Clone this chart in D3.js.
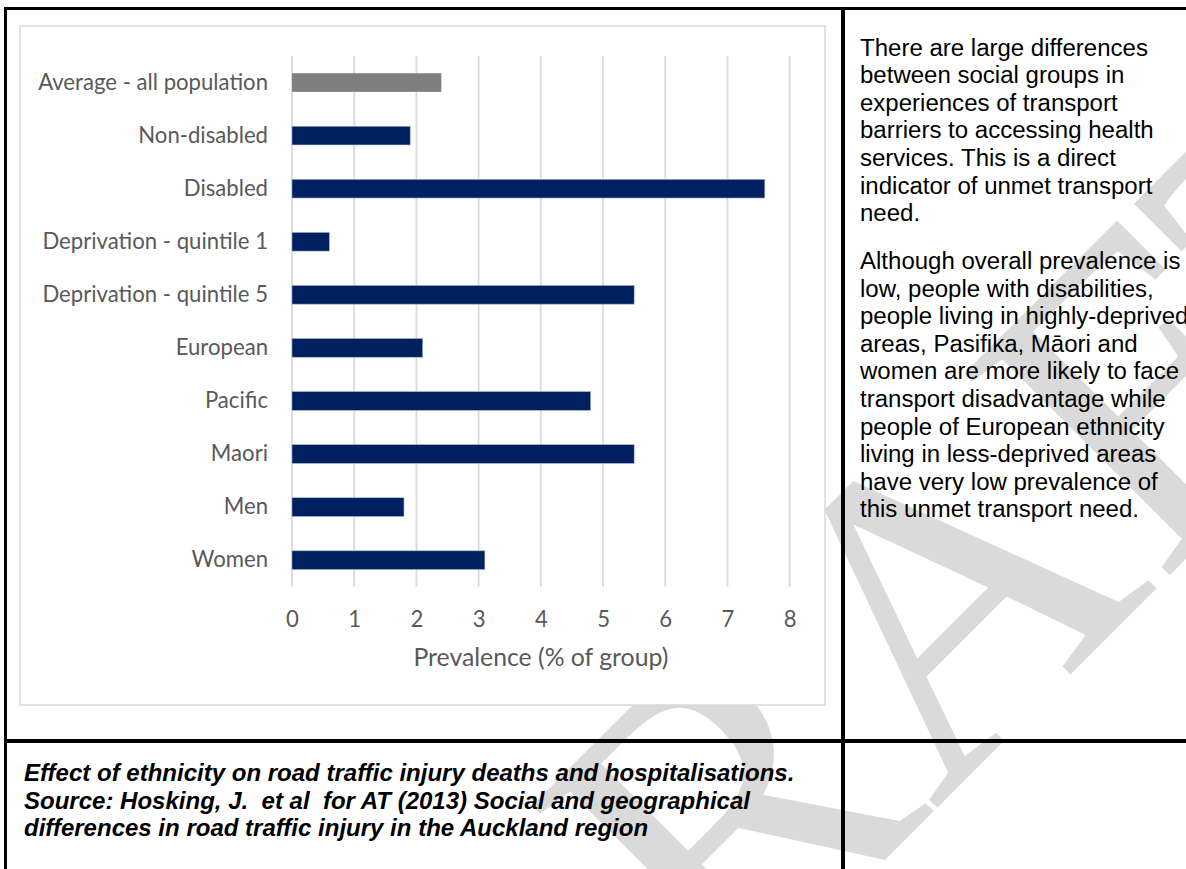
<!DOCTYPE html>
<html><head><meta charset="utf-8">
<script src="https://cdn.jsdelivr.net/npm/d3@7"></script>
<style>html,body{margin:0;padding:0;background:#fff;} svg{display:block;}</style>
</head><body>
<svg id="c" width="1186" height="869"></svg>
<script>
const categories = ["Average - all population","Non-disabled","Disabled","Deprivation - quintile 1","Deprivation - quintile 5","European","Pacific","Maori","Men","Women"];
const values = [2.4,1.9,7.6,0.6,5.5,2.1,4.8,5.5,1.8,3.1];
const highlighted = ["Average - all population"];
const xTicks = [0,1,2,3,4,5,6,7,8];
const axisTitle = "Prevalence (% of group)";
const paragraph1 = ["There are large differences","between social groups in","experiences of transport","barriers to accessing health","services. This is a direct","indicator of unmet transport","need."];
const paragraph2 = ["Although overall prevalence is","low, people with disabilities,","people living in highly-deprived","areas, Pasifika, Māori and","women are more likely to face","transport disadvantage while","people of European ethnicity","living in less-deprived areas","have very low prevalence of","this unmet transport need."];
const captionLines = ["Effect of ethnicity on road traffic injury deaths and hospitalisations.","Source: Hosking, J.  et al  for AT (2013) Social and geographical","differences in road traffic injury in the Auckland region"];
const watermarkText = "DRAFT";

const svg = d3.select("#c");
const W = 1186, H = 869;

function fitSize(text, family, weight, style, base, target){
  const t = svg.append("text").attr("font-family",family).attr("font-weight",weight)
    .attr("font-style",style).attr("font-size",base).style("white-space","pre").text(text);
  const w = t.node().getComputedTextLength(); t.remove();
  return base * target / w;
}

// watermark
const wm = svg.append("g").attr("transform","translate(1012,733) rotate(-45)");
wm.append("text").attr("text-anchor","middle").attr("font-family","Liberation Serif, serif")
  .attr("font-size",440).attr("fill","#dadada").text(watermarkText);

const chartFont = "Lato, 'Open Sans', sans-serif";
const lblSize = fitSize("Average - all population", chartFont, 400, "normal", 24, 230);
const titleSize = fitSize(axisTitle, chartFont, 400, "normal", 26, 255);

svg.append("rect").attr("x",20).attr("y",26).attr("width",805).attr("height",679)
  .attr("fill","#fff").attr("stroke","#d9d9d9").attr("stroke-width",1.5);

const x = d3.scaleLinear().domain([0,8]).range([292, 789.7]);
const y = d3.scaleBand().domain(categories).range([56, 586.7]).paddingInner(0.648).paddingOuter(0.324);

const plot = svg.append("g");
plot.selectAll("line.grid").data(xTicks).join("line").attr("class","grid")
  .attr("x1",d=>x(d)).attr("x2",d=>x(d)).attr("y1",56).attr("y2",586.7)
  .attr("stroke","#d9d9d9").attr("stroke-width",1.75);

plot.selectAll("rect.bar").data(categories).join("rect").attr("class","bar")
  .attr("x",x(0)).attr("y",d=>y(d)).attr("height",y.bandwidth())
  .attr("width",(d,i)=>x(values[i])-x(0))
  .attr("fill",d=>highlighted.includes(d)?"#7f7f7f":"#002060")
  .attr("stroke",d=>highlighted.includes(d)?"none":"#9fb0cc").attr("stroke-width",0.6);

const yAxis = svg.append("g").attr("transform",`translate(${x(0)},0)`)
  .call(d3.axisLeft(y).tickSize(0).tickPadding(24));
yAxis.select(".domain").remove();
yAxis.selectAll("text").attr("font-family",chartFont).attr("font-size",lblSize).attr("fill","#595959");

const xAxis = svg.append("g").attr("transform","translate(0,611)")
  .call(d3.axisBottom(x).tickValues(xTicks).tickSize(0).tickPadding(0).tickFormat(d3.format("d")));
xAxis.select(".domain").remove();
xAxis.selectAll("text").attr("font-family",chartFont).attr("font-size",lblSize).attr("fill","#595959").attr("dy","0.71em");

svg.append("text").attr("x",(x(0)+x(8))/2).attr("y",666).attr("text-anchor","middle")
  .attr("font-family",chartFont).attr("font-size",titleSize).attr("fill","#595959").text(axisTitle);

const sideFont = "'Liberation Sans', Arial, sans-serif";
const sideSize = fitSize(paragraph1[0], sideFont, 400, "normal", 24, 288);
const lh = 27.6;
function block(lines, x0, y0, font, size, weight, style){
  const t = svg.append("text").attr("font-family",font).attr("font-size",size)
    .attr("font-weight",weight).attr("font-style",style).attr("fill","#000").style("white-space","pre");
  t.selectAll("tspan").data(lines).join("tspan").attr("x",x0).attr("y",(d,i)=>y0+i*lh).text(d=>d);
}
block(paragraph1, 860, 55.5, sideFont, sideSize, 400, "normal");
block(paragraph2, 860, 269, sideFont, sideSize, 400, "normal");

const capSize = fitSize(captionLines[0], sideFont, 700, "italic", 24, 771);
block(captionLines, 24, 781, sideFont, capSize, 700, "italic");

const b = svg.append("g").attr("stroke","#000");
b.append("line").attr("x1",4).attr("x2",W).attr("y1",8.5).attr("y2",8.5).attr("stroke-width",3);
b.append("line").attr("x1",5.5).attr("x2",5.5).attr("y1",7).attr("y2",H).attr("stroke-width",3);
b.append("line").attr("x1",843).attr("x2",843).attr("y1",7).attr("y2",H).attr("stroke-width",4);
b.append("line").attr("x1",4).attr("x2",W).attr("y1",741).attr("y2",741).attr("stroke-width",4);
</script>
</body></html>
